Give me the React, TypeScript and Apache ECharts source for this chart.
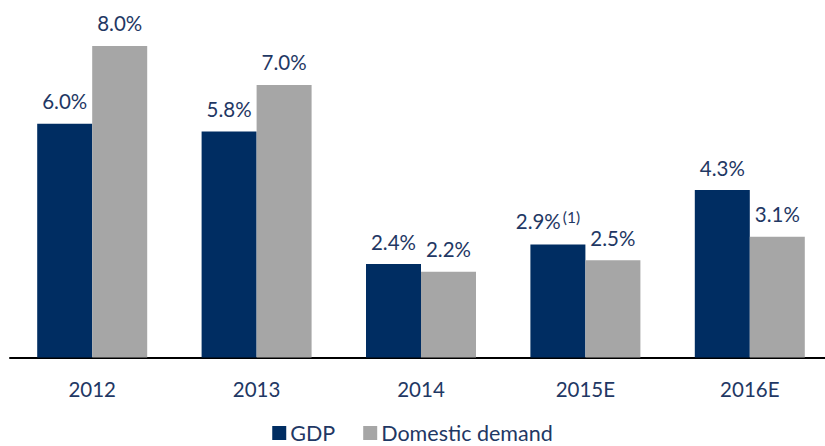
import React, { useEffect, useRef } from "react";
import * as echarts from "echarts";

const categories = ["2012", "2013", "2014", "2015E", "2016E"];
const gdp = [6.0, 5.8, 2.4, 2.9, 4.3];
const domestic = [8.0, 7.0, 2.2, 2.5, 3.1];
const footnoteIndex = 3;

const TEXT = "#1F3864";
const FONT = "Lato";
const FS = 20.5;

export default function App() {
  const ref = useRef<HTMLDivElement>(null);
  useEffect(() => {
    document.body.style.margin = "0";
    const chart = echarts.init(ref.current!, null, { renderer: "svg" });
    chart.setOption({
      animation: false,
      textStyle: { fontFamily: FONT },
      grid: { left: 10, top: 7, width: 822, height: 350.5, containLabel: false, outerBoundsMode: "none" },
      legend: {
        bottom: -3,
        left: "center",
        itemWidth: 14,
        itemHeight: 14,
        itemGap: 28,
        icon: "rect",
        textStyle: { color: TEXT, fontSize: 21.5, fontFamily: FONT, padding: [0, 0, 0, -1] },
        data: ["GDP", "Domestic demand"],
      },
      xAxis: {
        type: "category",
        data: categories,
        axisLine: { lineStyle: { color: "#000", width: 2 } },
        axisTick: { show: false },
        axisLabel: { color: TEXT, fontSize: FS, margin: 21, fontFamily: FONT },
      },
      yAxis: { type: "value", min: 0, max: 9, show: false, splitLine: { show: false } },
      series: [
        {
          name: "GDP",
          type: "bar",
          data: gdp.map((v, i) =>
            i === footnoteIndex
              ? {
                  value: v,
                  label: {
                    formatter: `{a|${v.toFixed(1)}%}{b|(1)}`,
                    offset: [-10, 0],
                    rich: {
                      a: { color: TEXT, fontSize: FS, fontFamily: FONT },
                      b: { color: TEXT, fontSize: 15.5, fontFamily: FONT, verticalAlign: "top", padding: [0, 0, 8, 2] },
                    },
                  },
                }
              : v
          ),
          itemStyle: { color: "#002D62" },
          barWidth: 55,
          barGap: "0%",
          label: {
            show: true,
            position: "top",
            distance: 12,
            color: TEXT,
            fontSize: FS,
            fontFamily: FONT,
            formatter: (p: any) => `${p.value.toFixed(1)}%`,
          },
        },
        {
          name: "Domestic demand",
          type: "bar",
          data: domestic,
          itemStyle: { color: "#A6A6A6" },
          barWidth: 55,
          barGap: "0%",
          label: {
            show: true,
            position: "top",
            distance: 12,
            color: TEXT,
            fontSize: FS,
            fontFamily: FONT,
            formatter: (p: any) => `${p.value.toFixed(1)}%`,
          },
        },
      ],
    });
    return () => chart.dispose();
  }, []);
  return <div ref={ref} style={{ width: 825, height: 446 }} />;
}
